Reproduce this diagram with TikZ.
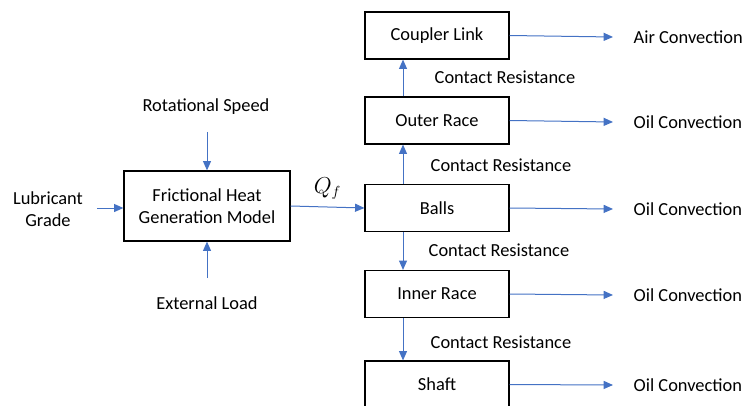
\documentclass[tikz,border=0pt]{standalone}
\usepackage{fontspec}
\setmainfont{Carlito}
\usetikzlibrary{arrows.meta, positioning}
\definecolor{flowBlue}{HTML}{4472C4}
\tikzset{
  % plain boxes with thin blue heat-flow arrows
  block/.style  = {draw, line width=0.9pt, align=center,
                   font=\fontsize{13.8}{16.5}\selectfont},
  model/.style  = {block, minimum width=124.5pt, minimum height=52.5pt},
  part/.style   = {block, minimum width=108pt, minimum height=35.25pt},
  flow/.style   = {-{Triangle[length=7pt, width=6pt]}, flowBlue, line width=0.75pt},
  lbl/.style    = {align=center, font=\fontsize{13.8}{16.5}\selectfont},
}

\begin{document}
\begin{tikzpicture}[x=0.75pt, y=-0.75pt]
  \path[use as bounding box, clip] (0,0) rectangle (748,406);
  \def\off{-25.5pt}
  % heat generation model and its inputs
  \node[model] (fric) at (207,206) {Frictional Heat\\Generation Model};
  \node[lbl] (lube)  at (48,209)  {Lubricant\\Grade};
  \node[lbl] (speed) at (206,107) {Rotational Speed};
  \node[lbl] (load)  at (207,303) {External Load};
  \coordinate (lubeIn)  at (97,208);
  \coordinate (speedIn) at (207,132);
  \coordinate (loadIn)  at (207,278);
  \draw[flow] (lubeIn) -- (lubeIn -| fric.west);
  \draw[flow] (speedIn) -- (speedIn |- fric.north);
  \draw[flow] (loadIn) -- (loadIn |- fric.south);
  % bearing parts
  \node[part] (coupler) at (437,35.5)  {Coupler Link};
  \node[part] (outer)   at (437,120.5) {Outer Race};
  \node[part] (balls)   at (437,208)   {Balls};
  \node[part] (inner)   at (437,294)   {Inner Race};
  \node[part] (shaft)   at (437,384.5) {Shaft};
  \draw[flow] (fric.east) -- node[midway, above=2pt, black,
    font=\fontsize{16}{18}\selectfont] (qf) {$Q_f$} (balls.west);
  % conduction between parts
  \draw[flow] ([xshift=\off]outer.north) -- ([xshift=\off]coupler.south);
  \draw[flow] ([xshift=\off]balls.north) -- ([xshift=\off]outer.south);
  \draw[flow] ([xshift=\off]balls.south) -- ([xshift=\off]inner.north);
  \draw[flow] ([xshift=\off]inner.south) -- ([xshift=\off]shaft.north);
  \node[lbl, anchor=west] (cr1) at (430,77)  {Contact Resistance};
  \node[lbl, anchor=west] (cr2) at (426,165) {Contact Resistance};
  \node[lbl, anchor=west] (cr3) at (424,250) {Contact Resistance};
  \node[lbl, anchor=west] (cr4) at (426,342) {Contact Resistance};
  % convection to the surroundings
  \node[lbl, anchor=west] (airC)   at (629,37)  {Air Convection};
  \node[lbl, anchor=west] (oilC1)  at (629,122) {Oil Convection};
  \node[lbl, anchor=west] (oilC2)  at (629,209) {Oil Convection};
  \node[lbl, anchor=west] (oilC3)  at (629,295) {Oil Convection};
  \node[lbl, anchor=west] (oilC4)  at (629,385) {Oil Convection};
  \draw[flow] (coupler.east) -- ([xshift=-12pt]airC.west);
  \draw[flow] (outer.east)   -- ([xshift=-12pt]oilC1.west);
  \draw[flow] (balls.east)   -- ([xshift=-12pt]oilC2.west);
  \draw[flow] (inner.east)   -- ([xshift=-12pt]oilC3.west);
  \draw[flow] (shaft.east)   -- ([xshift=-12pt]oilC4.west);
\end{tikzpicture}
\end{document}
